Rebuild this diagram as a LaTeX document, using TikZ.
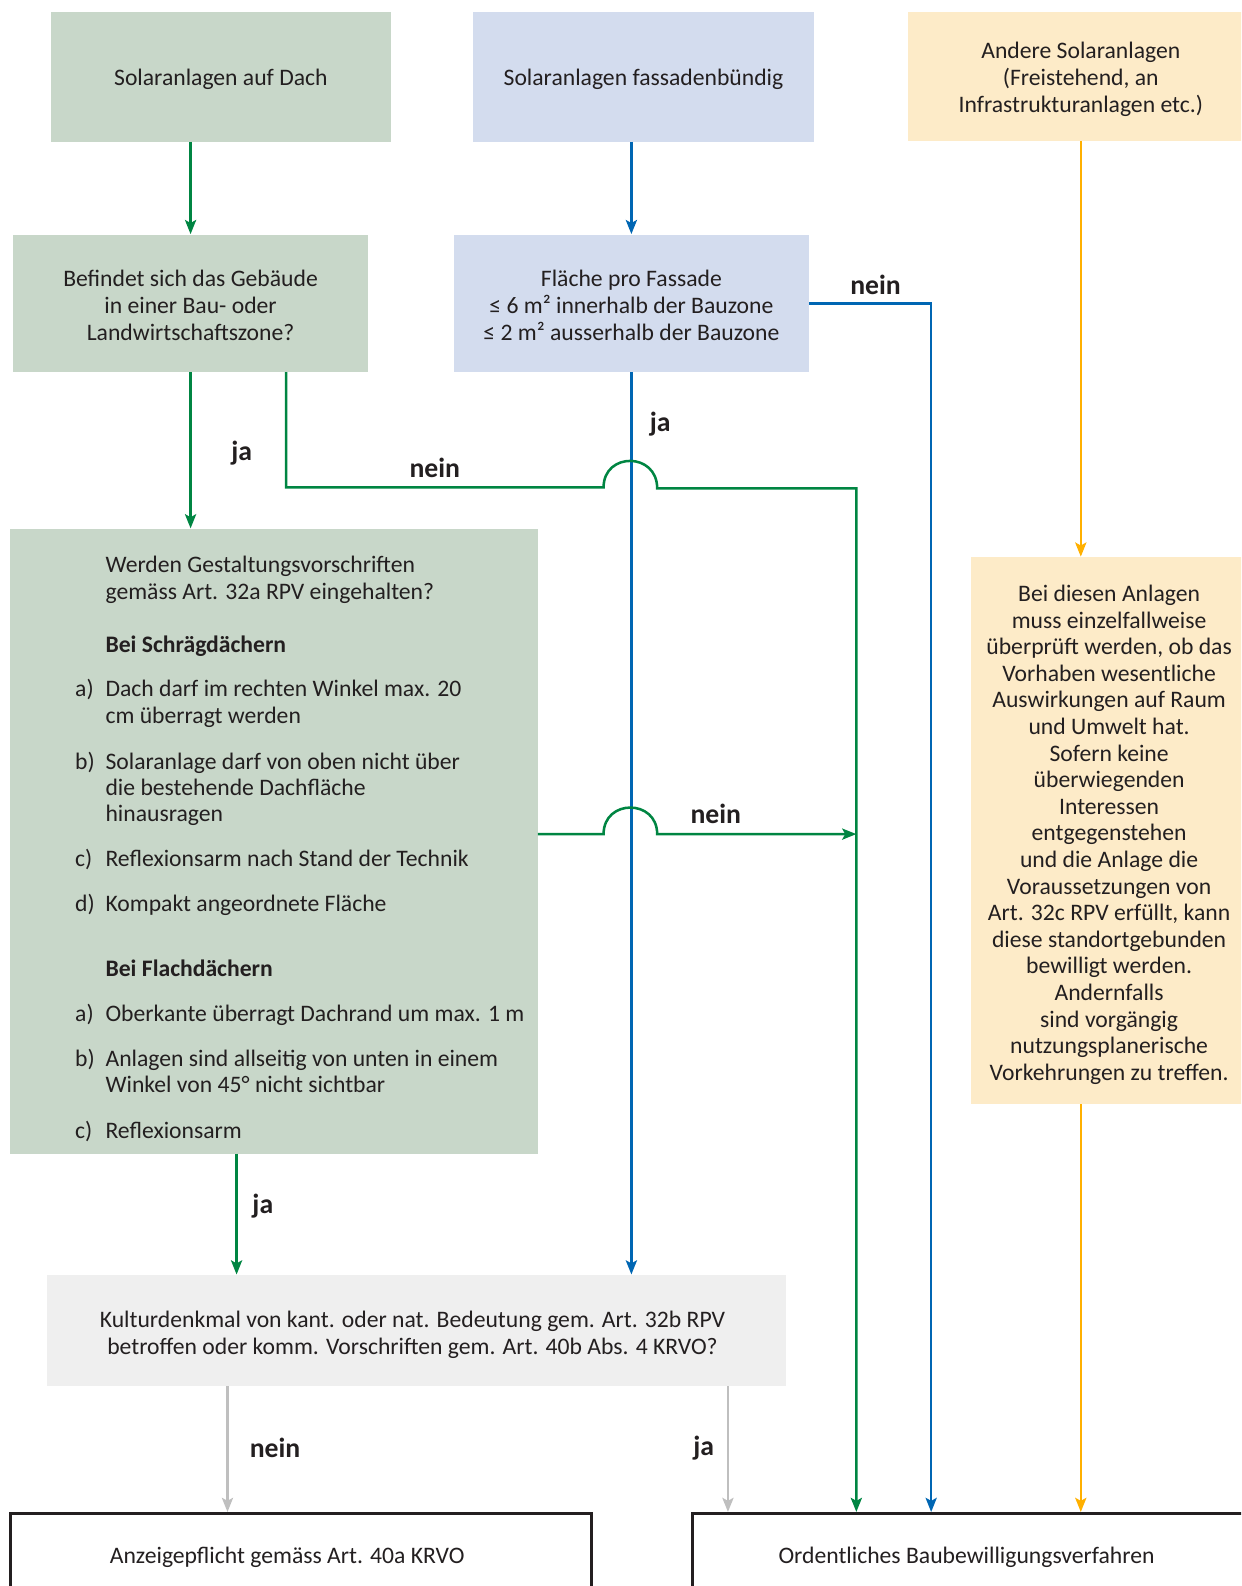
\documentclass[tikz,border=0pt]{standalone}
\usepackage{fontspec}
\setmainfont{Carlito}
\usetikzlibrary{arrows.meta}
\definecolor{cgreen}{RGB}{200,215,201}
\definecolor{cblue}{RGB}{211,220,238}
\definecolor{cyellow}{RGB}{253,235,200}
\definecolor{cgrayfill}{RGB}{239,239,239}
\definecolor{lgreen}{RGB}{0,133,66}
\definecolor{lblue}{RGB}{0,102,179}
\definecolor{lyellow}{RGB}{255,176,0}
\definecolor{lgray}{RGB}{191,191,191}
\definecolor{txt}{RGB}{35,31,32}
\newcommand{\lowertxt}[2]{\raisebox{-#1}[\height][\depth]{\begin{tabular}{@{}c@{}}#2\end{tabular}}}
\begin{document}
\begin{tikzpicture}[x=0.5pt,y=-0.5pt,
  box/.style={rectangle, inner sep=0pt, align=center, text=txt, font=\fontsize{11.7}{13.25}\selectfont},
  plain/.style={inner sep=0pt, text=txt, font=\fontsize{11.7}{13.25}\selectfont},
  lbl/.style={inner sep=0pt, text=txt, font=\fontsize{13.7}{16}\selectfont\bfseries},
  conn/.style={line width=1.25pt},
  arr/.style={conn, -{Stealth[length=7pt,width=5.5pt,inset=1.5pt]}},
  endbox/.style={rectangle, draw=txt, line width=1.5pt, fill=white, inner sep=0pt}
]
\useasboundingbox (0,0) rectangle (1227.5,1568.7);
\clip (0,0) rectangle (1227.5,1568.7);

% boxes
\node[box, fill=cgreen, minimum width=168.5pt, minimum height=64pt] (A) at (218.5,76) {\lowertxt{1.5pt}{Solaranlagen auf Dach}};
\node[box, fill=cblue, minimum width=168.5pt, minimum height=64pt] (B) at (636.5,76) {\lowertxt{1.5pt}{Solaranlagen fassadenbündig}};
\node[box, fill=cyellow, minimum width=171pt, minimum height=63.5pt] (C) at (1069,75.5) {\lowertxt{2pt}{Andere Solaranlagen\\(Freistehend, an\\Infrastrukturanlagen etc.)}};
\node[box, fill=cgreen, minimum width=175.5pt, minimum height=68pt] (D) at (188.5,300) {\lowertxt{2.5pt}{Befindet sich das Gebäude\\in einer Bau- oder\\Landwirtschaftszone?}};
\node[box, fill=cblue, minimum width=175.5pt, minimum height=68pt] (E) at (624.5,300) {\lowertxt{2.5pt}{Fläche pro Fassade\\≤ 6 m² innerhalb der Bauzone\\≤ 2 m² ausserhalb der Bauzone}};
\node[box, fill=cyellow, minimum width=137pt, minimum height=270.5pt, font=\fontsize{11.7}{13.15}\selectfont] (F) at (1097,821.5) {\lowertxt{2.5pt}{Bei diesen Anlagen\\muss einzelfallweise\\überprüft werden, ob das\\Vorhaben wesentliche\\Auswirkungen auf Raum\\und Umwelt hat.\\Sofern keine\\überwiegenden\\Interessen\\entgegenstehen\\und die Anlage die\\Voraussetzungen von\\Art. 32c RPV erfüllt, kann\\diese standortgebunden\\bewilligt werden.\\Andernfalls\\sind vorgängig\\nutzungsplanerische\\Vorkehrungen zu treffen.}};
\node[box, fill=cgreen, minimum width=261pt, minimum height=309pt] (G) at (271,832) {};
\node[box, fill=cgrayfill, minimum width=365.5pt, minimum height=55pt] (H) at (411.5,1316) {};
\node[plain, align=center] (Htxt) at (408,1320) {Kulturdenkmal von kant. oder nat. Bedeutung gem. Art. 32b RPV\\betroffen oder komm. Vorschriften gem. Art. 40b Abs. 4 KRVO?};
\node[endbox, minimum width=287.5pt, minimum height=61.5pt] (I) at (297.5,1558.5) {};
\node[endbox, minimum width=287.5pt, minimum height=61.5pt] (J) at (972.5,1558.5) {};
\node[plain] (Itxt) at (284,1540) {Anzeigepflicht gemäss Art. 40a KRVO};
\node[plain] (Jtxt) at (956,1540) {Ordentliches Baubewilligungsverfahren};

% text of G
\node[plain, anchor=base west] (g1) at (104,566) {Werden Gestaltungsvorschriften};
\node[plain, anchor=base west] (g2) at (104,593) {gemäss Art. 32a RPV eingehalten?};
\node[plain, anchor=base west, font=\fontsize{11.7}{13.25}\selectfont\bfseries] (g3) at (104,645) {Bei Schrägdächern};
\node[plain, anchor=base west] (g4l) at (74,689) {a)};
\node[plain, anchor=base west] (g4) at (104,689) {Dach darf im rechten Winkel max. 20};
\node[plain, anchor=base west] (g5) at (104,716) {cm überragt werden};
\node[plain, anchor=base west] (g6l) at (74,761) {b)};
\node[plain, anchor=base west] (g6) at (104,761) {Solaranlage darf von oben nicht über};
\node[plain, anchor=base west] (g7) at (104,787) {die bestehende Dachfläche};
\node[plain, anchor=base west] (g8) at (104,813) {hinausragen};
\node[plain, anchor=base west] (g9l) at (74,857) {c)};
\node[plain, anchor=base west] (g9) at (104,857) {Reflexionsarm nach Stand der Technik};
\node[plain, anchor=base west] (g10l) at (74,902) {d)};
\node[plain, anchor=base west] (g10) at (104,902) {Kompakt angeordnete Fläche};
\node[plain, anchor=base west, font=\fontsize{11.7}{13.25}\selectfont\bfseries] (g11) at (104,966) {Bei Flachdächern};
\node[plain, anchor=base west] (g12l) at (74,1010) {a)};
\node[plain, anchor=base west] (g12) at (104,1010) {Oberkante überragt Dachrand um max. 1 m};
\node[plain, anchor=base west] (g13l) at (74,1055) {b)};
\node[plain, anchor=base west] (g13) at (104,1055) {Anlagen sind allseitig von unten in einem};
\node[plain, anchor=base west] (g14) at (104,1081) {Winkel von 45° nicht sichtbar};
\node[plain, anchor=base west] (g15l) at (74,1126) {c)};
\node[plain, anchor=base west] (g15) at (104,1126) {Reflexionsarm};

% helper coordinates
\coordinate (dn) at (283,368);
\coordinate (gs) at (234,1141);
\coordinate (ge) at (532,825);
\coordinate (gn) at (847,825);
\coordinate (xg) at (847,0);
\coordinate (xb) at (921,0);
\coordinate (hn) at (225,1371);
\coordinate (hj) at (720,1371);

% connectors
\draw[arr, lgreen] (A.south -| D.north) -- (D.north);
\draw[arr, lblue] (B.south -| E.north) -- (E.north);
\draw[arr, lyellow] (C.south) -- (C.south |- F.north);
\draw[arr, lyellow] (F.south -| C.south) -- (C.south |- J.north);
\draw[arr, lgreen] (D.south) -- (D.south |- G.north);
\draw[arr, lblue] (E.south) -- (E.south |- H.north);
\draw[arr, lblue] (E.east) -| (J.north -| xb);
\draw[arr, lgreen] (dn) -- (283,482) -- (597,482) .. controls (597,447) and (650,447) .. (650,483) -- (847,483) -- (J.north -| xg);
\draw[arr, lgreen] (ge) -- (597,825) .. controls (597,790) and (650,790) .. (650,825) -- (gn);
\draw[arr, lgreen] (gs) -- (gs |- H.north);
\draw[arr, lgray] (hn) -- (hn |- I.north);
\draw[arr, lgray] (hj) -- (hj |- J.north);

% labels
\node[lbl] (l1) at (239,448) {ja};
\node[lbl] (l2) at (430,463) {nein};
\node[lbl] (l3) at (866,282) {nein};
\node[lbl] (l4) at (653,419) {ja};
\node[lbl] (l5) at (708,805) {nein};
\node[lbl] (l6) at (260,1193) {ja};
\node[lbl] (l7) at (272,1432) {nein};
\node[lbl] (l8) at (696,1432) {ja};
\end{tikzpicture}
\end{document}
